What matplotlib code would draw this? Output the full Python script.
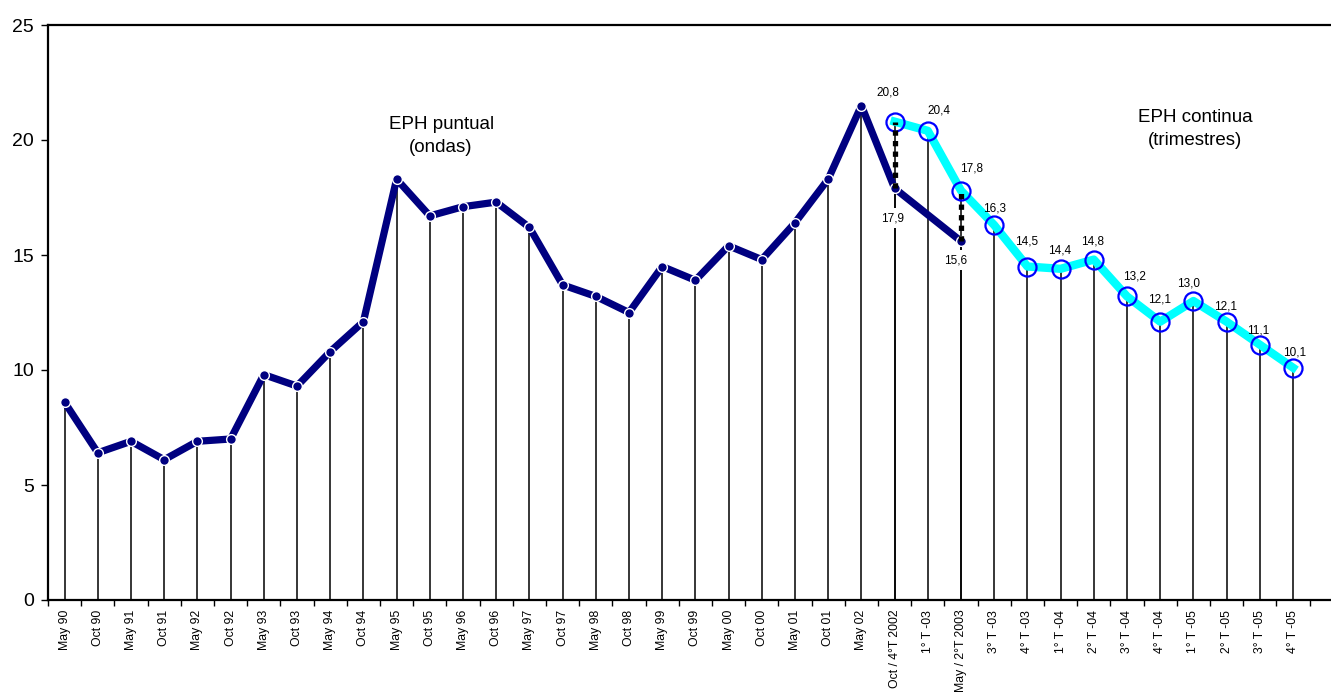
import matplotlib
matplotlib.use("Agg")
import matplotlib.pyplot as plt
import numpy as np

plt.rcParams['font.family'] = ['Liberation Sans', 'DejaVu Sans']

categories = ["May 90", "Oct 90", "May 91", "Oct 91", "May 92", "Oct 92", "May 93", "Oct 93",
              "May 94", "Oct 94", "May 95", "Oct 95", "May 96", "Oct 96", "May 97", "Oct 97",
              "May 98", "Oct 98", "May 99", "Oct 99", "May 00", "Oct 00", "May 01", "Oct 01",
              "May 02", "Oct / 4°T 2002", "1° T -03", "May / 2°T 2003", "3° T -03", "4° T -03",
              "1° T -04", "2° T -04", "3° T -04", "4° T -04", "1° T -05", "2° T -05", "3° T -05",
              "4° T -05"]

# EPH puntual (ondas) values; None where no observation
puntual = [8.6, 6.4, 6.9, 6.1, 6.9, 7.0, 9.8, 9.3, 10.8, 12.1, 18.3, 16.7, 17.1, 17.3, 16.2, 13.7,
           13.2, 12.5, 14.5, 13.9, 15.4, 14.8, 16.4, 18.3, 21.5, 17.9, None, 15.6]

# EPH continua (trimestres), starting at "Oct / 4°T 2002"
continua_start = 25
continua = [20.8, 20.4, 17.8, 16.3, 14.5, 14.4, 14.8, 13.2, 12.1, 13.0, 12.1, 11.1, 10.1]

# labelled puntual points (index, value)
puntual_labels = [(25, 17.9), (27, 15.6)]

# label offsets in pixels (dx, dy)
continua_label_offsets = [(-7, 29), (11, 20), (11, 22), (0, 17), (-1, 25), (-1, 18), (-1, 18),
                          (7, 20), (-1, 22), (-5, 18), (-1, 15), (-2, 14), (2, 15)]
puntual_label_offsets = [(-2, -30), (-5, -19)]


def fmt(v):
    return f"{v:.1f}".replace(".", ",")


W, H = 1331, 695
fig = plt.figure(figsize=(W / 100, H / 100), dpi=100)
ax = fig.add_axes([48 / W, 1 - 600 / H, 1 - 48 / W, (600 - 25) / H])

n = len(categories)
xp = [i for i, v in enumerate(puntual) if v is not None]
yp = [v for v in puntual if v is not None]
xc = list(range(continua_start, continua_start + len(continua)))

# drop lines
for x, y in zip(xp, yp):
    ax.plot([x, x], [0, y], color='black', lw=1.1, zorder=1, solid_capstyle='butt')
for x, y in zip(xc, continua):
    ax.plot([x, x], [0, y], color='black', lw=1.1, zorder=1, solid_capstyle='butt')

# dashed connectors between the two surveys
for idx in (25, 27):
    ax.plot([idx, idx], [puntual[idx], continua[idx - continua_start]], color='black',
            lw=3.8, linestyle=(0, (1, 1)), dash_capstyle='butt', zorder=6)

# puntual line
ax.plot(xp, yp, color='#000080', lw=5.2, marker='o', markersize=7,
        markerfacecolor='#000080', markeredgecolor='white', markeredgewidth=1.0,
        zorder=4, solid_capstyle='round')

# continua line
ax.plot(xc, continua, color='#00FFFF', lw=6, marker='o', markersize=13,
        markerfacecolor='none', markeredgecolor='#0000FF', markeredgewidth=1.6, zorder=5)

# labels
for x, y, (dx, dy) in zip(xc, continua, continua_label_offsets):
    ax.annotate(fmt(y), (x, y), xytext=(dx, dy), textcoords='offset pixels',
                ha='center', va='center', fontsize=8.5, zorder=7)
for (x, y), (dx, dy) in zip(puntual_labels, puntual_label_offsets):
    ax.annotate(fmt(y), (x, y), xytext=(dx, dy), textcoords='offset pixels',
                ha='center', va='center', fontsize=8.5, zorder=7,
                bbox=dict(boxstyle='square,pad=0.35', fc='white', ec='none'))

ax.text(11.34, 20.17, "EPH puntual\n(ondas)", ha='center', va='center', fontsize=13.5,
        linespacing=1.45)
ax.text(34.05, 20.48, "EPH continua\n(trimestres)", ha='center', va='center', fontsize=13.5,
        linespacing=1.45)

# axes
xmax = (W - 48) / 33.2 - 0.5
ax.set_xlim(-0.5, xmax)
ax.set_ylim(0, 25)
ax.set_yticks([0, 5, 10, 15, 20, 25])
ax.set_yticklabels(["0", "5", "10", "15", "20", "25"], fontsize=14)
ax.tick_params(axis='y', length=5, width=1, pad=5)

ax.set_xticks(np.arange(-0.5, xmax, 1.0))
ax.set_xticklabels([])
ax.tick_params(axis='x', which='major', length=4, width=1)
ax.set_xticks(np.arange(n), minor=True)
ax.set_xticklabels(categories, minor=True, rotation=90, fontsize=8.8, va='top', ha='center')
ax.tick_params(axis='x', which='minor', length=0, pad=7)

for s in ('left', 'bottom', 'top'):
    ax.spines[s].set_linewidth(1.6)
ax.spines['right'].set_visible(False)

fig.savefig("out.png", dpi=100)
